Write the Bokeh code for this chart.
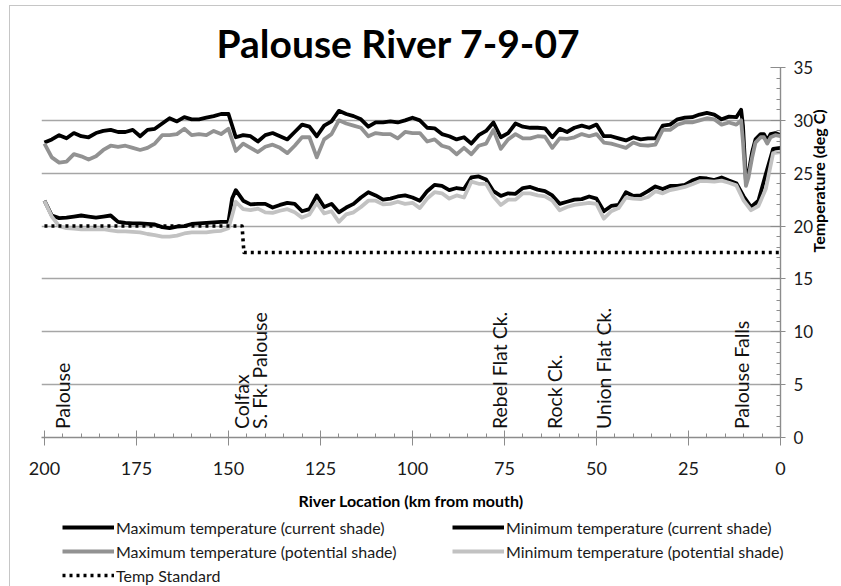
import math
from bokeh.plotting import figure
from bokeh.layouts import column
from bokeh.models import Range1d, SingleIntervalTicker, Legend, LegendItem
from bokeh.core.properties import value
from bokeh.embed import file_html
from bokeh.resources import INLINE

# ---------------- data ----------------
km_max = [200, 198, 196, 194, 192, 190, 188, 186, 184, 182,
          180, 178, 176, 174, 172, 170, 168, 166, 164, 162,
          160, 158, 156, 154, 152, 150, 148, 146, 144, 142,
          140, 138, 136, 134, 132, 130, 128, 126, 124, 122,
          120, 118, 116, 114, 112, 110, 108, 106, 104, 102,
          100, 98, 96, 94, 92, 90, 88, 86, 84, 82,
          80, 78, 76, 74, 72, 70, 68, 66, 64, 62,
          60, 58, 56, 54, 52, 50, 48, 46, 44, 42,
          40, 38, 36, 34, 32, 30, 28, 26, 24, 22,
          20, 18, 16, 14, 12,
          10.7, 10.2, 9.4, 8.7, 7.7, 6.8, 5.4, 4.5, 3.6, 2.7, 1.4, 0]

max_current = [27.9, 28.2, 28.6, 28.3, 28.8, 28.5, 28.4, 28.8, 29.0, 29.1,
               28.9, 28.9, 29.1, 28.5, 29.1, 29.2, 29.7, 30.2, 29.9, 30.3,
               30.1, 30.1, 30.25, 30.4, 30.6, 30.6, 28.4, 28.6, 28.5, 28.0,
               28.6, 28.8, 28.5, 28.2, 28.9, 29.6, 29.4, 28.5, 29.5, 29.9,
               30.9, 30.6, 30.4, 30.1, 29.4, 29.8, 29.8, 29.9, 29.8, 30.0,
               30.25, 30.0, 29.3, 29.25, 28.7, 28.5, 28.2, 28.4, 27.8, 28.6,
               29.0, 29.8, 28.4, 28.8, 29.7, 29.4, 29.3, 29.3, 29.25, 28.4,
               29.2, 28.9, 29.3, 29.5, 29.3, 29.6, 28.5, 28.5, 28.3, 28.1,
               28.4, 28.2, 28.3, 28.3, 29.5, 29.6, 30.1, 30.25, 30.3, 30.55,
               30.7, 30.55, 30.1, 30.35, 30.3,
               31.0, 29.5, 24.3, 25.0, 27.0, 28.2, 28.7, 28.7, 28.1, 28.7, 28.8, 28.6]

max_potential = [27.8, 26.5, 26.0, 26.1, 26.8, 26.6, 26.3, 26.6, 27.2, 27.6,
                 27.5, 27.6, 27.4, 27.2, 27.4, 27.8, 28.6, 28.6, 28.7, 29.2,
                 28.6, 28.7, 28.6, 29.0, 28.7, 29.2, 27.1, 27.8, 27.4, 27.0,
                 27.5, 27.7, 27.4, 26.9, 27.6, 28.4, 28.4, 26.5, 28.2, 28.7,
                 30.0, 29.7, 29.5, 29.3, 28.5, 28.8, 28.7, 28.7, 28.3, 28.9,
                 28.8, 28.8, 28.0, 28.2, 27.6, 27.4, 26.8, 27.4, 26.8, 27.6,
                 27.8, 29.1, 27.3, 28.2, 28.7, 28.3, 28.3, 28.5, 28.45, 27.4,
                 28.3, 28.25, 28.4, 28.7, 28.5, 28.7, 27.9, 27.8, 27.6, 27.4,
                 27.9, 27.65, 27.6, 27.7, 29.1, 29.1, 29.6, 29.8, 29.8, 30.0,
                 30.2, 30.1, 29.6, 29.8, 29.6,
                 30.0, 28.0, 23.8, 24.6, 26.5, 27.9, 28.4, 28.4, 27.8, 28.4, 28.6, 28.5]

km_min = [200, 198, 196, 194, 192, 190, 188, 186, 184, 182,
          180, 178, 176, 174, 172, 170, 168, 166, 164, 162,
          160, 158, 156, 154, 152, 150, 149,
          148, 146, 144, 142, 140, 138, 136, 134, 132, 130,
          128, 126, 124, 122, 120, 118, 116, 114, 112, 110,
          108, 106, 104, 102, 100, 98, 96, 94, 92, 90,
          88, 86, 84, 82, 80, 78, 76, 74, 72, 70,
          68, 66, 64, 62, 60, 58, 56, 54, 52, 50,
          48, 46, 44, 42, 40, 38, 36, 34, 32, 30,
          28, 26, 24, 22, 20, 18, 16, 14, 12, 10,
          8, 6, 4, 2, 0]

min_current = [22.4, 21.0, 20.75, 20.8, 20.9, 21.0, 20.9, 20.8, 20.9, 21.0,
               20.4, 20.3, 20.25, 20.25, 20.2, 20.15, 19.9, 19.8, 19.95, 20.0,
               20.2, 20.25, 20.3, 20.35, 20.4, 20.4, 22.6,
               23.4, 22.4, 22.05, 22.1, 22.1, 21.75, 22.0, 22.2, 22.1, 21.4,
               21.6, 22.9, 21.8, 22.1, 21.3, 21.75, 22.1, 22.7, 23.2, 22.9,
               22.5, 22.6, 22.8, 22.9, 22.7, 22.4, 23.3, 23.9, 23.8, 23.4,
               23.6, 23.5, 24.6, 24.7, 24.4, 23.3, 22.85, 23.1, 23.05, 23.6,
               23.7, 23.45, 23.3, 22.9, 22.1, 22.3, 22.5, 22.55, 22.8, 22.6,
               21.4, 21.9, 22.0, 23.2, 22.85, 22.9, 23.3, 23.75, 23.5, 23.8,
               23.8, 23.9, 24.3, 24.55, 24.5, 24.35, 24.6, 24.3, 24.05, 22.8,
               21.8, 22.4, 24.9, 27.3, 27.4]

min_potential = [22.4, 20.9, 20.0, 19.8, 19.75, 19.7, 19.7, 19.7, 19.7, 19.6,
                 19.5, 19.5, 19.45, 19.4, 19.25, 19.15, 19.0, 19.0, 19.1, 19.3,
                 19.4, 19.4, 19.4, 19.5, 19.55, 19.8, 21.0,
                 22.3, 21.6, 21.5, 21.65, 21.3, 21.25, 21.45, 21.6, 21.3, 20.8,
                 21.1, 22.2, 21.2, 21.4, 20.4, 21.1, 21.3, 21.8, 22.4, 22.4,
                 22.05, 22.1, 22.3, 22.1, 22.2, 21.7, 22.6, 23.2, 23.1, 22.6,
                 22.9, 22.7, 24.2, 24.0, 24.0, 22.8, 22.0, 22.5, 22.5, 23.1,
                 23.1, 22.9, 22.8, 22.4, 21.5, 21.8, 22.0, 22.1, 22.2, 22.1,
                 20.7, 21.4, 21.7, 22.7, 22.6, 22.55, 22.75, 23.3, 23.1, 23.4,
                 23.55, 23.7, 23.95, 24.25, 24.25, 24.2, 24.3, 24.1, 23.85, 22.4,
                 21.5, 21.9, 23.5, 26.9, 27.0]

std_km = [200, 146.3, 145.8, 0]
std_temp = [20, 20, 17.5, 17.5]

place_names = ["Palouse", "Colfax", "S. Fk. Palouse", "Rebel Flat Ck.",
               "Rock Ck.", "Union Flat Ck.", "Palouse Falls"]
place_km = [195.1, 146.5, 141.5, 76.3, 61.5, 48.2, 10.65]
place_y = [0.8, 0.8, 0.8, 0.8, 0.8, 0.8, 0.8]

series_labels = ["Maximum temperature (current shade)",
                 "Minimum temperature (current shade)",
                 "Maximum temperature (potential shade)",
                 "Minimum temperature (potential shade)",
                 "Temp Standard"]

FONT = "Lato"
LW = 3.8
STD_DASH = "3 4"
EDGE = "#c6c6c6"
series_styles = [dict(line_color="#000000", line_width=LW),
                 dict(line_color="#000000", line_width=LW),
                 dict(line_color="#929292", line_width=LW),
                 dict(line_color="#c2c2c2", line_width=LW),
                 dict(line_color="#000000", line_width=3.6, line_dash=STD_DASH)]
series_x = [km_max, km_min, km_max, km_min, std_km]
series_y = [max_current, min_current, max_potential, min_potential, std_temp]

# ---------------- chart ----------------
p = figure(width=841, height=516, output_backend="svg", toolbar_location=None,
           x_range=Range1d(200.8, 0), y_range=Range1d(0, 35),
           y_axis_location="right",
           min_border_left=41, min_border_right=61,
           min_border_top=67, min_border_bottom=79)
p.frame_align = False
p.outline_line_color = None
p.background_fill_color = "white"
p.border_fill_color = None
# thin outer chart border (left and top edges) as in the reference
p.styles = {"background": ("linear-gradient(%s, %s) 9px 5px / 1px 100%% no-repeat, "
                           "linear-gradient(%s, %s) 9px 5px / 100%% 1px no-repeat, white")
                          % (EDGE, EDGE, EDGE, EDGE)}

p.title.text = "Palouse River 7-9-07"
p.title.text_font = FONT
p.title.text_font_style = "bold"
p.title.text_font_size = "39px"
p.title.text_color = "#000000"
p.title.align = "left"
p.title.offset = 175
p.title.standoff = 3

p.xgrid.grid_line_color = None
p.ygrid.grid_line_color = "#a6a6a6"
p.ygrid.grid_line_width = 1.4

xa = p.xaxis[0]
xa.ticker = SingleIntervalTicker(interval=25, num_minor_ticks=5)
xa.axis_line_color = "#8c8c8c"
xa.axis_line_width = 1.4
xa.major_tick_line_color = "#8c8c8c"
xa.minor_tick_line_color = "#8c8c8c"
xa.major_tick_in = 7
xa.major_tick_out = 8
xa.minor_tick_in = 4
xa.minor_tick_out = 0
xa.major_label_text_font = FONT
xa.major_label_text_font_size = "18px"
xa.major_label_text_color = "#1a1a1a"
xa.major_label_standoff = 16
xa.axis_label = "River Location (km from mouth)"
xa.axis_label_text_font = FONT
xa.axis_label_text_font_style = "bold"
xa.axis_label_text_font_size = "16px"
xa.axis_label_text_color = "#000000"
xa.axis_label_standoff = 13

ya = p.yaxis[0]
ya.ticker = SingleIntervalTicker(interval=5, num_minor_ticks=5)
ya.axis_line_color = "#8c8c8c"
ya.axis_line_width = 1.4
ya.major_tick_line_color = "#8c8c8c"
ya.minor_tick_line_color = "#8c8c8c"
ya.major_tick_in = 10
ya.major_tick_out = 5
ya.minor_tick_in = 4
ya.minor_tick_out = 0
ya.major_label_text_font = FONT
ya.major_label_text_font_size = "17px"
ya.major_label_text_color = "#1a1a1a"
ya.major_label_standoff = 8
ya.axis_label = "Temperature (deg C)"
ya.axis_label_text_font = FONT
ya.axis_label_text_font_style = "bold"
ya.axis_label_text_font_size = "16px"
ya.axis_label_text_color = "#000000"
ya.axis_label_standoff = 2
try:
    ya.axis_label_orientation = math.pi / 2
except Exception:
    pass

for xs, ys, st in zip(series_x, series_y, series_styles):
    p.line(xs, ys, line_join="round", **st)

p.text(x=place_km, y=place_y, text=place_names, angle=math.pi / 2,
       text_align="left", text_baseline="middle",
       text_font=value(FONT), text_font_size="19.5px", text_color="#111111")

# ---------------- legend strip below the chart ----------------
q = figure(width=841, height=70, output_backend="svg", toolbar_location=None,
           x_range=Range1d(0, 1), y_range=Range1d(-100, -99),
           x_axis_location=None, y_axis_location=None,
           min_border_left=0, min_border_right=0, min_border_top=0, min_border_bottom=0)
q.frame_align = False
q.outline_line_color = None
q.xgrid.grid_line_color = None
q.ygrid.grid_line_color = None
q.background_fill_color = None
q.border_fill_color = None
q.styles = {"background": ("linear-gradient(%s, %s) 9px 0px / 1px 100%% no-repeat, white")
                          % (EDGE, EDGE)}

items = []
for lab, xs, ys, st in zip(series_labels, series_x, series_y, series_styles):
    r = q.line(xs, ys, **st)   # same series; lies outside this strip's view
    items.append(LegendItem(label=lab, renderers=[r]))

legend = Legend(items=items, location=(62, 1), orientation="horizontal", ncols=2,
                glyph_width=52, glyph_height=20, label_height=20, label_width=332,
                label_standoff=2, spacing=4, padding=0, margin=0,
                border_line_alpha=0, background_fill_alpha=0,
                label_text_font=FONT, label_text_font_size="16px",
                label_text_color="#1a1a1a")
q.add_layout(legend)

layout = column(p, q, spacing=0)
open("out.html", "w").write(file_html(layout, INLINE))
